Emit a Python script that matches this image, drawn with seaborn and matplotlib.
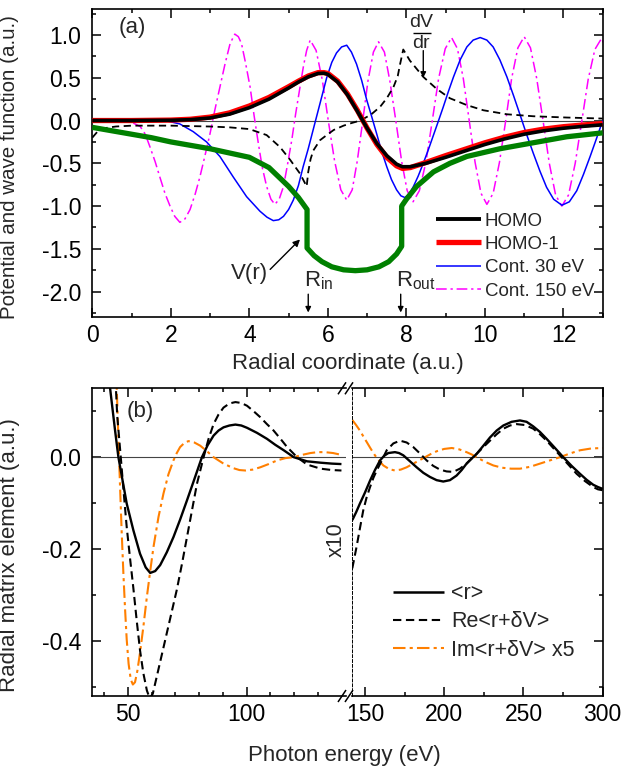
import numpy as np
import pandas as pd
import matplotlib
matplotlib.use("Agg")
import matplotlib.pyplot as plt
from matplotlib.lines import Line2D
from matplotlib.ticker import MultipleLocator, FormatStrFormatter, FixedLocator
import seaborn as sns

# ---------------- panel (a) data ----------------
homo_r = [0, 1, 2, 2.5, 3, 3.5, 4, 4.5, 5, 5.25, 5.5, 5.75, 5.9, 6, 6.25, 6.5, 6.75, 7, 7.25, 7.5,
          7.75, 7.9, 8.1, 8.5, 9, 9.5, 10, 10.5, 11, 11.5, 12, 12.5, 13]
homo_v = [0, 0, 0.003, 0.01, 0.03, 0.075, 0.15, 0.25, 0.38, 0.45, 0.51, 0.55, 0.553, 0.54, 0.45, 0.3,
          0.11, -0.09, -0.27, -0.41, -0.51, -0.54, -0.54, -0.5, -0.43, -0.355, -0.28, -0.215, -0.16,
          -0.12, -0.09, -0.068, -0.05]
homo1_v = [0, 0, 0.005, 0.015, 0.04, 0.09, 0.17, 0.27, 0.395, 0.46, 0.52, 0.56, 0.56, 0.55, 0.46, 0.31,
           0.12, -0.09, -0.28, -0.43, -0.53, -0.56, -0.55, -0.49, -0.41, -0.335, -0.26, -0.195, -0.14,
           -0.1, -0.072, -0.052, -0.035]

cont30_r = [0, 0.5, 1.0, 1.5, 1.9, 2.23, 2.57, 2.91, 3.25, 3.59, 3.93, 4.27, 4.45, 4.61, 4.75, 4.87,
            5.0, 5.12, 5.25, 5.37, 5.5, 5.63, 5.8, 5.97, 6.1, 6.22, 6.35, 6.48, 6.6, 6.73, 6.86, 6.99,
            7.12, 7.24, 7.37, 7.5, 7.62, 7.75, 7.86, 7.96, 8.07, 8.18, 8.3, 8.43, 8.56, 8.69, 8.82,
            8.94, 9.07, 9.2, 9.37, 9.54, 9.7, 9.88, 10.05, 10.21, 10.38, 10.56, 10.73, 10.9, 11.06,
            11.23, 11.4, 11.57, 11.75, 11.96, 12.15, 12.34, 12.51, 12.68, 12.85, 13.0]
cont30_v = [0, 0, 0, 0, -0.005, -0.04, -0.13, -0.25, -0.42, -0.66, -0.89, -1.06, -1.13, -1.17, -1.16,
            -1.12, -1.04, -0.93, -0.76, -0.54, -0.33, -0.1, 0.2, 0.5, 0.68, 0.79, 0.86, 0.88, 0.8, 0.66,
            0.47, 0.24, 0.04, -0.15, -0.36, -0.54, -0.69, -0.81, -0.88, -0.9, -0.86, -0.77, -0.65,
            -0.5, -0.34, -0.17, 0.0, 0.16, 0.34, 0.51, 0.71, 0.86, 0.94, 0.97, 0.94, 0.86, 0.71, 0.51,
            0.29, 0.06, -0.16, -0.38, -0.59, -0.78, -0.92, -0.99, -0.95, -0.82, -0.63, -0.42, -0.2, 0.0]

cont150_r = [0, 0.4, 0.8, 1.0, 1.22, 1.35, 1.47, 1.6, 1.72, 1.85, 1.98, 2.1, 2.23, 2.36, 2.49, 2.62,
             2.74, 2.87, 3.0, 3.12, 3.25, 3.38, 3.51, 3.63, 3.72, 3.8, 3.9, 4.02, 4.12, 4.23, 4.33,
             4.44, 4.55, 4.65, 4.76, 4.87, 4.97, 5.08, 5.18, 5.29, 5.38, 5.46, 5.55, 5.7, 5.86, 6.01,
             6.17, 6.33, 6.48, 6.62, 6.75, 6.89, 7.02, 7.16, 7.29, 7.44, 7.58, 7.73, 7.88, 8.02, 8.17,
             8.33, 8.5, 8.66, 8.82, 8.99, 9.15, 9.3, 9.45, 9.6, 9.75, 9.9, 10.05, 10.21, 10.37, 10.53,
             10.68, 10.84, 11.0, 11.16, 11.32, 11.48, 11.64, 11.8, 11.96, 12.13, 12.3, 12.47, 12.63,
             12.8, 12.97, 13.1]
cont150_v = [0, 0, -0.005, -0.02, -0.07, -0.16, -0.31, -0.48, -0.66, -0.85, -1.0, -1.12, -1.19, -1.15,
             -1.04, -0.86, -0.66, -0.41, -0.15, 0.12, 0.39, 0.66, 0.9, 1.01, 0.98, 0.9, 0.68, 0.39,
             0.06, -0.27, -0.55, -0.77, -0.92, -0.98, -0.92, -0.77, -0.52, -0.23, 0.08, 0.39, 0.64,
             0.82, 0.94, 0.82, 0.47, 0.0, -0.47, -0.81, -0.93, -0.81, -0.47, 0.0, 0.46, 0.8, 0.92, 0.8,
             0.46, 0.0, -0.48, -0.82, -0.95, -0.82, -0.48, 0.0, 0.49, 0.84, 0.97, 0.84, 0.49, 0.0,
             -0.49, -0.85, -0.98, -0.85, -0.49, 0.0, 0.49, 0.85, 0.98, 0.85, 0.49, 0.0, -0.5, -0.87,
             -1.0, -0.87, -0.5, 0.0, 0.48, 0.83, 0.96, 0.83]

dvdr_r = [0, 0.15, 0.3, 0.6, 1, 2, 3, 3.5, 4, 4.44, 4.78, 5.04, 5.29, 5.46, 5.5, 5.56, 5.63, 5.8, 6.0,
          6.15, 6.4, 6.6, 6.83, 7.1, 7.33, 7.5, 7.67, 7.78, 7.84, 7.92, 8.09, 8.43, 8.77, 9.11, 9.54,
          9.96, 10.56, 11.23, 12.08, 13.0]
dvdr_v = [-0.2, -0.12, -0.09, -0.07, -0.06, -0.06, -0.07, -0.08, -0.1, -0.17, -0.31, -0.46, -0.62,
          -0.77, -0.6, -0.45, -0.35, -0.23, -0.16, -0.11, -0.06, -0.03, 0.0, 0.07, 0.16, 0.26, 0.39,
          0.52, 0.66, 0.83, 0.7, 0.51, 0.37, 0.26, 0.18, 0.12, 0.073, 0.05, 0.035, 0.023]

pot_r = [0, 0.5, 1, 1.5, 2, 2.5, 3, 3.5, 4, 4.5, 5, 5.25, 5.47, 5.47, 5.65, 5.85, 6.1, 6.4, 6.7, 7.0,
         7.3, 7.55, 7.75, 7.88, 7.88, 8.0, 8.26, 8.69, 9.11, 9.54, 10.38, 11.23, 12.08, 13.0]
pot_v = [-0.08, -0.12, -0.16, -0.2, -0.25, -0.29, -0.33, -0.38, -0.43, -0.55, -0.77, -0.9, -1.04,
         -1.49, -1.58, -1.65, -1.71, -1.745, -1.755, -1.745, -1.71, -1.65, -1.56, -1.47, -1.0, -0.92,
         -0.77, -0.6, -0.5, -0.42, -0.33, -0.26, -0.19, -0.144]

# ---------------- panel (b) data ----------------
r_left_E = [41.5, 42.5, 44.6, 46.0, 49.5, 52.3, 55.1, 57.5, 59.4, 61.5, 63.6, 66.4, 69.2, 72.0, 74.9,
            78.0, 81.2, 83.6, 86.1, 88.2, 90.3, 92.8, 95.3, 97.8, 100.2, 104.4, 108.6, 112.1, 115.7,
            119.9, 125.5, 131.2, 136.0, 140.0]
r_left_v = [0.2, 0.15, 0.058, 0.0, -0.101, -0.159, -0.21, -0.24, -0.252, -0.248, -0.235, -0.207,
            -0.174, -0.136, -0.094, -0.048, 0.0, 0.026, 0.047, 0.058, 0.065, 0.069, 0.071, 0.069,
            0.064, 0.053, 0.04, 0.027, 0.015, 0.0, -0.009, -0.012, -0.014, -0.015]

re_left_E = [44.5, 45.5, 47.0, 48.2, 49.5, 50.9, 52.3, 53.7, 55.1, 56.5, 58.0, 59.2, 60.5, 62.2, 64.3,
             66.4, 68.5, 70.6, 72.8, 74.9, 77.0, 79.1, 81.9, 84.0, 86.1, 88.2, 90.3, 92.8, 95.3, 97.8,
             100.2, 103.0, 105.8, 108.6, 111.4, 114.3, 117.1, 121.3, 125.5, 131.2, 136.0, 140.0]
re_left_v = [0.2, 0.09, 0.0, -0.075, -0.152, -0.22, -0.285, -0.355, -0.42, -0.47, -0.508, -0.525,
             -0.515, -0.477, -0.43, -0.383, -0.336, -0.289, -0.232, -0.174, -0.116, -0.058, 0.0,
             0.04, 0.072, 0.093, 0.108, 0.117, 0.12, 0.118, 0.112, 0.1, 0.087, 0.072, 0.058, 0.04,
             0.022, 0.0, -0.016, -0.025, -0.028, -0.029]

im_left_E = [45.0, 45.3, 46.0, 46.7, 47.4, 48.1, 48.8, 49.5, 50.3, 51.2, 52.1, 53.0, 54.0, 55.1, 56.5,
             58.0, 59.4, 60.8, 62.9, 65.0, 67.1, 69.2, 70.6, 72.0, 73.8, 75.5, 78.0, 80.5, 83.3, 86.1,
             90.3, 94.5, 97.0, 99.5, 102.6, 105.8, 109.3, 112.9, 116.4, 119.9, 123.4, 126.9, 130.0,
             133.0, 136.5, 140.0]
im_left_v = [0.19, 0.15, 0.04, -0.065, -0.165, -0.253, -0.33, -0.397, -0.45, -0.484, -0.495, -0.49,
             -0.465, -0.426, -0.37, -0.304, -0.248, -0.195, -0.13, -0.079, -0.037, -0.007, 0.009,
             0.022, 0.031, 0.035, 0.032, 0.025, 0.013, 0.0, -0.014, -0.024, -0.028, -0.029, -0.027,
             -0.022, -0.015, -0.007, -0.002, 0.0, 0.005, 0.009, 0.011, 0.011, 0.009, 0.005]

r_right_E = [142.0, 144.4, 146.8, 150.0, 153.2, 156.3, 159.5, 162.1, 164.7, 168.9, 171.5, 174.2, 178.4,
             182.6, 186.8, 191.0, 195.2, 199.4, 203.6, 207.8, 211.0, 214.1, 217.3, 220.4, 224.7, 228.9,
             233.1, 237.3, 242.5, 247.8, 252.0, 256.2, 260.4, 264.6, 269.9, 275.1, 280.4, 285.6,
             289.8, 294.0, 297.0, 300.0]
r_right_v = [-0.137, -0.12, -0.101, -0.077, -0.051, -0.028, -0.007, 0.003, 0.009, 0.011, 0.009, 0.004,
             -0.009, -0.022, -0.034, -0.043, -0.05, -0.053, -0.05, -0.04, -0.028, -0.014, -0.003,
             0.007, 0.025, 0.043, 0.058, 0.069, 0.077, 0.08, 0.077, 0.067, 0.055, 0.04, 0.02, 0.0,
             -0.019, -0.036, -0.049, -0.06, -0.065, -0.069]

re_right_E = [142.0, 144.7, 146.8, 148.9, 151.0, 153.2, 155.3, 157.4, 160.5, 163.7, 167.9, 172.1, 176.3,
              180.5, 184.7, 188.9, 193.1, 197.3, 201.5, 205.7, 209.9, 214.1, 217.3, 220.4, 224.7,
              228.9, 233.1, 237.3, 241.5, 245.7, 251.0, 256.2, 260.4, 264.6, 268.8, 273.0, 278.3,
              283.5, 288.8, 294.0, 297.0, 300.0]
re_right_v = [-0.242, -0.195, -0.155, -0.116, -0.088, -0.065, -0.045, -0.029, -0.008, 0.015, 0.03,
              0.036, 0.032, 0.022, 0.008, -0.007, -0.019, -0.027, -0.031, -0.032, -0.025, -0.014,
              -0.003, 0.007, 0.022, 0.036, 0.05, 0.062, 0.069, 0.072, 0.07, 0.062, 0.05, 0.036, 0.02,
              0.004, -0.016, -0.036, -0.052, -0.065, -0.07, -0.072]

im_right_E = [142.0, 144.4, 146.8, 149.0, 151.1, 153.7, 156.3, 159.0, 161.6, 165.3, 168.9, 172.6, 176.3,
              182.1, 187.9, 191.6, 195.3, 200.0, 204.8, 209.5, 214.1, 217.3, 220.4, 225.7, 231.0,
              236.6, 242.2, 247.8, 254.1, 260.4, 266.7, 273.0, 279.3, 285.6, 292.8, 300.0]
im_right_v = [0.081, 0.07, 0.058, 0.045, 0.033, 0.018, 0.004, -0.008, -0.018, -0.026, -0.029, -0.027,
              -0.022, -0.011, 0.0, 0.007, 0.013, 0.018, 0.02, 0.017, 0.011, 0.006, 0.0, -0.01, -0.018,
              -0.023, -0.025, -0.025, -0.021, -0.014, -0.007, 0.0, 0.008, 0.015, 0.019, 0.02]

# ---------------- style ----------------
sns.set_theme(style="ticks")
plt.rcParams['font.family'] = ['Liberation Sans', 'DejaVu Sans']
plt.rcParams['mathtext.fontset'] = 'custom'
plt.rcParams['mathtext.rm'] = 'Liberation Sans'
plt.rcParams['mathtext.it'] = 'Liberation Sans:italic'
plt.rcParams['axes.unicode_minus'] = False
plt.rcParams['lines.solid_capstyle'] = 'butt'

TICK_FS = 16.5
LABEL_FS = 16

W, H = 623, 766
fig = plt.figure(figsize=(W / 100, H / 100), dpi=100)
fig.patch.set_facecolor('white')


def px_axes(x0, y0, x1, y1):
    return fig.add_axes([x0 / W, 1 - y1 / H, (x1 - x0) / W, (y1 - y0) / H])


def line(ax, x, y, **kw):
    sns.lineplot(x=x, y=y, ax=ax, sort=False, estimator=None, legend=False, **kw)


def style_axis(ax):
    for s in ax.spines.values():
        s.set_linewidth(1.2)
        s.set_color('black')
    ax.tick_params(which='both', direction='in', colors='black', labelsize=TICK_FS, width=1.1)
    ax.tick_params(which='major', length=6.5)
    ax.tick_params(which='minor', length=3.2)
    ax.set_facecolor('white')


# ---------------- panel (a) ----------------
axA = px_axes(92.3, 9.3, 602.7, 317.3)
style_axis(axA)
axA.axhline(0, color='#444444', lw=0.8, zorder=1)
line(axA, cont150_r, cont150_v, color='#FF00FF', lw=1.1, linestyle=(0, (7, 2.5, 1.5, 2.5)), zorder=2)
line(axA, cont30_r, cont30_v, color='#0000FF', lw=1.1, zorder=3)
line(axA, dvdr_r, dvdr_v, color='black', lw=1.3, linestyle=(0, (4, 2.5)), zorder=4)
line(axA, pot_r, pot_v, color='#008000', lw=3.8, zorder=5)
line(axA, homo_r, homo1_v, color='#FF0000', lw=3.8, zorder=6)
line(axA, homo_r, homo_v, color='black', lw=2.6, zorder=7)

axA.set_xlim(0, 13)
axA.set_ylim(-2.3, 1.3)
axA.xaxis.set_major_locator(MultipleLocator(2))
axA.xaxis.set_minor_locator(MultipleLocator(1))
axA.yaxis.set_major_locator(MultipleLocator(0.5))
axA.yaxis.set_minor_locator(MultipleLocator(0.25))
axA.yaxis.set_major_formatter(FormatStrFormatter('%.1f'))
axA.xaxis.set_major_formatter(FormatStrFormatter('%d'))
axA.tick_params(which='both', top=True, right=True)
axA.tick_params(axis='x', pad=5)
axA.tick_params(axis='y', pad=8)
axA.set_xlabel('')
axA.set_ylabel('Potential and wave function (a.u.)', fontsize=14.8)
axA.yaxis.set_label_coords((19 - 92.3) / 510.4, (317.3 - 167) / 308)

fig.text(347.5 / W, 1 - 364 / H, 'Radial coordinate (a.u.)', fontsize=LABEL_FS, ha='center', va='center')

axA.text(0.078, 0.942, '(a)', transform=axA.transAxes, fontsize=16, ha='center', va='center')
# V(r)
axA.text(4.0, -1.79, 'V(r)', fontsize=16, ha='center', va='center')
axA.annotate('', xy=(5.29, -1.39), xytext=(4.53, -1.74),
             arrowprops=dict(arrowstyle='-|>', color='black', lw=1.0, mutation_scale=10, shrinkA=0, shrinkB=0))
# R_in / R_out
axA.text(5.40, -1.94, r'R$_{\rm in}$', fontsize=16, ha='left', va='baseline')
axA.text(7.74, -1.94, r'R$_{\rm out}$', fontsize=16, ha='left', va='baseline')
for rr in (5.50, 7.855):
    axA.annotate('', xy=(rr, -2.244), xytext=(rr, -2.03),
                 arrowprops=dict(arrowstyle='-|>', color='black', lw=1.0, mutation_scale=8, shrinkA=0, shrinkB=0))
# dV/dr
axA.text(8.37, 1.149, 'dV', fontsize=14, ha='center', va='center')
axA.text(8.37, 0.905, 'dr', fontsize=14, ha='center', va='center')
axA.plot([8.17, 8.63], [1.023, 1.023], color='black', lw=1.0, clip_on=False)
axA.annotate('', xy=(8.43, 0.50), xytext=(8.43, 0.817),
             arrowprops=dict(arrowstyle='-|>', color='black', lw=1.0, mutation_scale=8, shrinkA=0, shrinkB=0))

handlesA = [Line2D([], [], color='black', lw=2.8),
            Line2D([], [], color='#FF0000', lw=3.8),
            Line2D([], [], color='#0000FF', lw=1.1),
            Line2D([], [], color='#FF00FF', lw=1.1, linestyle=(0, (7, 2.5, 1.5, 2.5)))]
legA = axA.legend(handlesA, ['HOMO', 'HOMO-1', 'Cont. 30 eV', 'Cont. 150 eV'],
                  loc='center left', bbox_to_anchor=(0.673, 0.199), frameon=False, fontsize=13.5,
                  borderpad=0, borderaxespad=0, handlelength=2.4, handletextpad=0.2, labelspacing=0.33)

# ---------------- panel (b) ----------------
axL = px_axes(92.3, 388.3, 346.2, 696.0)
axR = px_axes(352.3, 388.3, 602.7, 696.0)
for ax in (axL, axR):
    style_axis(ax)
    ax.axhline(0, color='#444444', lw=0.8, zorder=1)
    ax.set_ylim(-0.52, 0.15)
    ax.yaxis.set_major_locator(MultipleLocator(0.2))
    ax.yaxis.set_minor_locator(MultipleLocator(0.1))
    ax.yaxis.set_major_formatter(FormatStrFormatter('%.1f'))
    ax.tick_params(axis='x', pad=5)
    ax.tick_params(axis='y', pad=8)

DASH = (0, (4, 2.2))
DASHDOT = (0, (6, 2, 1.5, 2))
line(axL, im_left_E, im_left_v, color='#FF7F00', lw=1.5, linestyle=DASHDOT, zorder=2)
line(axL, re_left_E, re_left_v, color='black', lw=1.5, linestyle=DASH, zorder=3)
line(axL, r_left_E, r_left_v, color='black', lw=1.7, zorder=4)
line(axR, im_right_E, im_right_v, color='#FF7F00', lw=1.5, linestyle=DASHDOT, zorder=2)
line(axR, re_right_E, re_right_v, color='black', lw=1.5, linestyle=DASH, zorder=3)
line(axR, r_right_E, r_right_v, color='black', lw=1.7, zorder=4)

axL.set_xlim(35, 142)
axL.xaxis.set_major_locator(MultipleLocator(50))
axL.xaxis.set_minor_locator(FixedLocator([40, 60, 70, 80, 90, 110, 120, 130]))
axL.spines['right'].set_visible(False)
axL.tick_params(which='both', top=True, right=False, left=True)
axL.set_ylabel('Radial matrix element (a.u.)', fontsize=LABEL_FS)
axL.yaxis.set_label_coords((20 - 92.3) / 253.9, (696 - 555.5) / 307.7)
axL.set_xlabel('')

axR.set_xlim(142, 300)
axR.xaxis.set_major_locator(FixedLocator([150, 200, 250, 300]))
axR.xaxis.set_minor_locator(FixedLocator([175, 225, 275]))
axR.xaxis.set_major_formatter(FormatStrFormatter('%d'))
axR.spines['left'].set_linestyle((0, (3, 2)))
axR.spines['left'].set_linewidth(0.7)
axR.tick_params(which='both', top=True, right=True, left=False, labelleft=False)
axR.set_ylabel('')
axR.set_xlabel('')

fig.text(344 / W, 1 - 755 / H, 'Photon energy (eV)', fontsize=LABEL_FS, ha='center', va='center')
fig.text(140 / W, 1 - 412 / H, '(b)', fontsize=16, ha='center', va='center')
fig.text(336 / W, 1 - 540 / H, 'x10', fontsize=15.5, ha='center', va='center', rotation=90)

# break marks
for yc in (388.3, 696.0):
    for xc in (342.0, 349.0):
        fig.add_artist(Line2D([(xc - 4) / W, (xc + 4) / W], [1 - (yc + 6) / H, 1 - (yc - 6) / H],
                              transform=fig.transFigure, color='black', lw=1.1))

handlesB = [Line2D([], [], color='black', lw=1.8),
            Line2D([], [], color='black', lw=1.5, linestyle=DASH),
            Line2D([], [], color='#FF7F00', lw=1.5, linestyle=DASHDOT)]
axR.legend(handlesB, ['<r>', 'Re<r+δV>', 'Im<r+δV> x5'], loc='center left',
           bbox_to_anchor=(0.161, 0.2405), frameon=False, fontsize=15.5, borderpad=0, borderaxespad=0,
           handlelength=2.4, handletextpad=0.32, labelspacing=0.34)

fig.savefig('out.png', dpi=100, facecolor='white')
